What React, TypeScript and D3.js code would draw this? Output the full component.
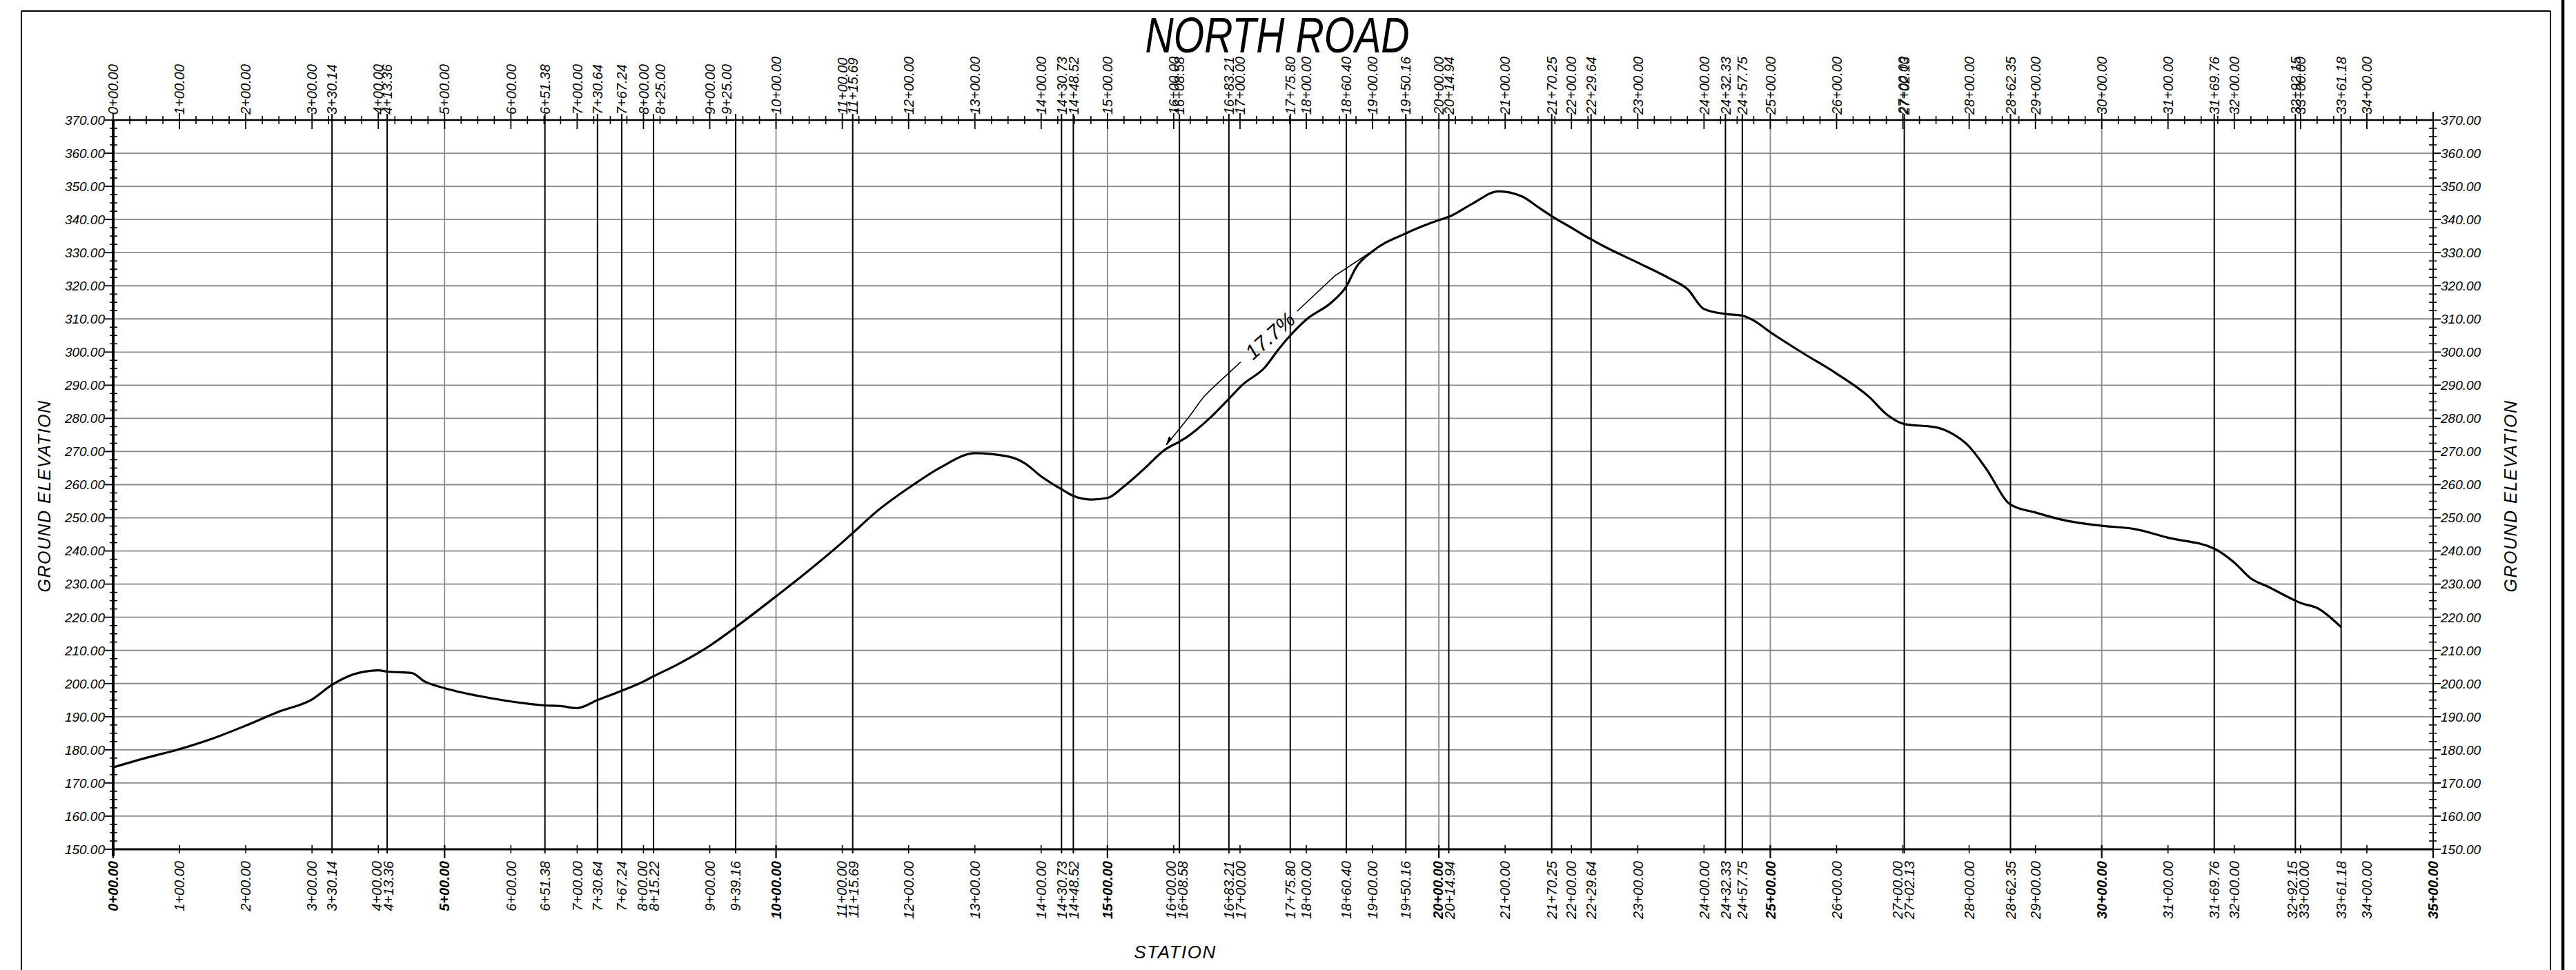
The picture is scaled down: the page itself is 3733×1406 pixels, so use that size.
import React from 'react';
import * as d3 from 'd3';

// ground profile, station in feet / elevation in feet
const profileStations = [
  0, 50, 100, 150, 200, 250, 300, 330.14, 360, 400, 413.36, 450, 470, 500, 550, 600,
  651.38, 675, 700, 730.64, 767.24, 800, 815.22, 850, 900, 939.16, 1000, 1050, 1100,
  1115.69, 1150, 1200, 1250, 1300, 1350, 1375, 1400, 1430.73, 1448.52, 1475, 1500,
  1525, 1555, 1587, 1608.58, 1620, 1654, 1683.21, 1703, 1738, 1758, 1775.8, 1800,
  1838, 1860.4, 1875, 1900, 1950.16, 2000, 2014.94, 2050, 2090, 2125, 2150, 2170.25,
  2200, 2229.64, 2250, 2300, 2350, 2375, 2400, 2432.33, 2457.75, 2475, 2500, 2550,
  2600, 2650, 2675, 2702.13, 2750, 2775, 2800, 2825, 2862.35, 2900, 2950, 3000, 3050,
  3100, 3169.76, 3200, 3225, 3250, 3292.15, 3300, 3325, 3361.18,
];
const profileElevations = [
  174.7, 177.6, 180.2, 183.4, 187.3, 191.5, 195.2, 199.6, 202.6, 204.0, 203.6, 203.2, 200.6, 198.6, 196.3, 194.6,
  193.4, 193.2, 192.6, 195.0, 197.8, 200.6, 202.2, 205.6, 211.4, 217.0, 226.3, 234.2, 242.6,
  245.4, 251.6, 259.0, 265.4, 269.5, 268.5, 266.5, 262.5, 258.6, 256.6, 255.5, 256.0,
  259.5, 264.7, 270.6, 273.0, 274.4, 280.0, 285.9, 290.0, 295.5, 300.8, 305.0, 309.8,
  315.0, 319.8, 325.5, 330.4, 335.8, 339.8, 340.8, 344.7, 348.5, 347.0, 343.7, 341.0,
  337.5, 334.0, 331.8, 327.0, 322.0, 319.0, 313.0, 311.5, 311.0, 309.5, 306.0, 299.6,
  293.5, 286.3, 281.3, 278.3, 277.3, 275.3, 271.5, 265.0, 254.0, 251.6, 249.0, 247.6, 246.6,
  244.0, 240.7, 236.5, 231.7, 229.3, 225.0, 224.3, 222.8, 217.0,
];

// station labels along the top edge
const topStations = [
  0, 100, 200, 300, 330.14, 400, 413.36, 500, 600, 651.38, 700, 730.64, 767.24, 800,
  825, 900, 925, 1000, 1100, 1115.69, 1200, 1300, 1400, 1430.73, 1448.52, 1500, 1600,
  1608.58, 1683.21, 1700, 1775.8, 1800, 1860.4, 1900, 1950.16, 2000, 2014.94, 2100,
  2170.25, 2200, 2229.64, 2300, 2400, 2432.33, 2457.75, 2500, 2600, 2700, 2702.13, 2800,
  2862.35, 2900, 3000, 3100, 3169.76, 3200, 3292.15, 3300, 3361.18, 3400,
];
// station labels along the bottom edge
const bottomStations = [
  0, 100, 200, 300, 330.14, 400, 413.36, 500, 600, 651.38, 700, 730.64, 767.24, 800,
  815.22, 900, 939.16, 1000, 1100, 1115.69, 1200, 1300, 1400, 1430.73, 1448.52, 1500,
  1600, 1608.58, 1683.21, 1700, 1775.8, 1800, 1860.4, 1900, 1950.16, 2000, 2014.94,
  2100, 2170.25, 2200, 2229.64, 2300, 2400, 2432.33, 2457.75, 2500, 2600, 2700, 2702.13,
  2800, 2862.35, 2900, 3000, 3100, 3169.76, 3200, 3292.15, 3300, 3361.18, 3400, 3500,
];
// break stations drawn as full-height black lines
const breakStations = [
  330.14, 413.36, 651.38, 730.64, 767.24, 815.22, 939.16, 1115.69, 1430.73, 1448.52,
  1608.58, 1683.21, 1775.8, 1860.4, 1950.16, 2014.94, 2170.25, 2229.64, 2432.33,
  2457.75, 2702.13, 2862.35, 3169.76, 3292.15, 3361.18,
];
const elevTicks = d3.range(150, 371, 10);

// 17.7% grade callout
const gradeLabel = '17.7%';
const gradeArrowSta = [1701, 1661, 1644, 1627, 1599, 1589];
const gradeArrowElev = [297, 289.6, 286.5, 281.3, 274.5, 272];
const gradeLineSta = [1786, 1843, 1899];
const gradeLineElev = [312.3, 323, 330.4];
const gradeTextSta = 1745;
const gradeTextElev = 305;

const W = 3733;
const H = 1406;
const FONT = '"Liberation Sans", Arial, sans-serif';

const fmtStation = (s: number) => {
  const hund = Math.floor(s / 100 + 1e-9);
  const rest = s - hund * 100;
  return `${hund}+${rest.toFixed(2).padStart(5, '0')}`;
};

export default function App() {
  const x = d3.scaleLinear().domain([0, 3500]).range([164, 3526]);
  const y = d3.scaleLinear().domain([150, 370]).range([1231, 174]);
  const top = y(370), bot = y(150), left = x(0), right = x(3500);

  const line = d3.line<[number, number]>()
    .x(d => x(d[0])).y(d => y(d[1]))
    .curve(d3.curveMonotoneX);
  const profile = line(profileStations.map((s, i) => [s, profileElevations[i]]));

  const arrowPath = d3.line<[number, number]>()
    .x(d => x(d[0])).y(d => y(d[1]))
    .curve(d3.curveBasis)(gradeArrowSta.map((s, i) => [s, gradeArrowElev[i]]));
  const gradePath = d3.line<[number, number]>()
    .x(d => x(d[0])).y(d => y(d[1]))(gradeLineSta.map((s, i) => [s, gradeLineElev[i]]));
  const ang = Math.atan2(
    y(gradeLineElev[0]) - y(gradeArrowElev[0]),
    x(gradeLineSta[0]) - x(gradeArrowSta[0])
  ) * 180 / Math.PI;
  const tipX = x(gradeArrowSta[gradeArrowSta.length - 1]);
  const tipY = y(gradeArrowElev[gradeArrowElev.length - 1]);

  // bottom labels spread apart a little where they crowd
  const bPos = bottomStations.map(s => x(s));
  for (let it = 0; it < 20; it++) {
    for (let i = 1; i < bPos.length; i++) {
      const gap = bPos[i] - bPos[i - 1];
      if (gap < 17) {
        const push = (17 - gap) / 2;
        bPos[i] += push;
        bPos[i - 1] -= push;
      }
    }
  }

  const minorX = d3.range(0, 3501, 25).filter(s => s % 100 !== 0);
  const minorY = d3.range(150, 370.1, 2.5).filter(e => e % 10 !== 0);

  return (
    <svg width={W} height={H} style={{ position: 'absolute', left: 0, top: 0, background: '#fff' }}>
      {/* sheet frame */}
      <line x1={31} x2={3696} y1={16} y2={16} stroke="#000" strokeWidth={2} />
      <line x1={31} x2={31} y1={16} y2={H} stroke="#000" strokeWidth={2} />
      <line x1={3696} x2={3696} y1={16} y2={H} stroke="#000" strokeWidth={2} />
      <line x1={3714} x2={3714} y1={0} y2={H} stroke="#000" strokeWidth={4.5} />

      {/* grid */}
      {elevTicks.filter(e => e > 150 && e < 370).map(e => (
        <line key={'h' + e} x1={left} x2={right} y1={y(e)} y2={y(e)} stroke="#8a8a8a" strokeWidth={1.8} />
      ))}
      {d3.range(500, 3500, 500).map(s => (
        <line key={'g' + s} x1={x(s)} x2={x(s)} y1={top} y2={bot} stroke="#8a8a8a" strokeWidth={1.8} />
      ))}
      {breakStations.map(s => (
        <line key={'b' + s} x1={x(s)} x2={x(s)} y1={top - 9} y2={bot + 6} stroke="#000" strokeWidth={2} />
      ))}

      {/* top axis */}
      <line x1={left} x2={right} y1={top} y2={top} stroke="#000" strokeWidth={2.4} />
      {minorX.map(s => (
        <line key={'mt' + s} x1={x(s)} x2={x(s)} y1={top - 6} y2={top + 6} stroke="#000" strokeWidth={1.6} />
      ))}
      {d3.range(0, 3401, 100).map(s => (
        <line key={'Mt' + s} x1={x(s)} x2={x(s)} y1={top - 10} y2={top + 13} stroke="#000" strokeWidth={1.8} />
      ))}
      {topStations.map(s => (
        <text key={'tl' + s} transform={`translate(${x(s)},${top - 8}) rotate(-90)`} dy="0.36em"
          fontFamily={FONT} fontStyle="italic" fontSize={20} fill="#000">{fmtStation(s)}</text>
      ))}

      {/* bottom axis */}
      <line x1={left} x2={right} y1={bot} y2={bot} stroke="#000" strokeWidth={3} />
      {d3.range(0, 3501, 100).map(s => (
        <line key={'Mb' + s} x1={x(s)} x2={x(s)} y1={bot - 6} y2={bot + (s % 500 === 0 ? 13 : 6)}
          stroke="#000" strokeWidth={s % 500 === 0 ? 2.2 : 1.6} />
      ))}
      {bottomStations.map((s, i) => (
        <text key={'bl' + s} transform={`translate(${bPos[i]},${bot + 17}) rotate(-90)`} dy="0.36em"
          textAnchor="end" fontFamily={FONT} fontStyle="italic"
          fontWeight={s % 500 === 0 ? 'bold' : 'normal'} fontSize={20} fill="#000">{fmtStation(s)}</text>
      ))}

      {/* left elevation axis */}
      <line x1={left} x2={left} y1={top} y2={bot + 10} stroke="#000" strokeWidth={4} />
      {minorY.map(e => (
        <line key={'ml' + e} x1={left - 5} x2={left + 6} y1={y(e)} y2={y(e)} stroke="#000" strokeWidth={1.6} />
      ))}
      {elevTicks.map(e => (
        <g key={'yl' + e}>
          <line x1={left - 12} x2={left} y1={y(e)} y2={y(e)} stroke="#000" strokeWidth={1.8} />
          <text x={left - 12} y={y(e)} dy="0.36em" textAnchor="end" fontFamily={FONT}
            fontStyle="italic" fontSize={19} fill="#000">{e.toFixed(2)}</text>
        </g>
      ))}

      {/* right elevation axis */}
      <line x1={right} x2={right} y1={top - 12} y2={bot + 10} stroke="#000" strokeWidth={2} />
      {minorY.map(e => (
        <line key={'mr' + e} x1={right - 6} x2={right + 5} y1={y(e)} y2={y(e)} stroke="#000" strokeWidth={1.6} />
      ))}
      {elevTicks.map(e => (
        <g key={'yr' + e}>
          <line x1={right} x2={right + 11} y1={y(e)} y2={y(e)} stroke="#000" strokeWidth={1.8} />
          <text x={right + 11} y={y(e)} dy="0.36em" fontFamily={FONT}
            fontStyle="italic" fontSize={19} fill="#000">{e.toFixed(2)}</text>
        </g>
      ))}

      {/* ground profile */}
      <path d={profile || ''} fill="none" stroke="#000" strokeWidth={3.2} strokeLinejoin="round" />

      {/* grade callout */}
      <path d={arrowPath || ''} fill="none" stroke="#000" strokeWidth={1.6} />
      <path d={gradePath || ''} fill="none" stroke="#000" strokeWidth={1.6} />
      <path d={`M${tipX},${tipY} l4,-12 l3,4 z`} fill="#000" stroke="#000" strokeWidth={1} />
      <text transform={`translate(${x(gradeTextSta)},${y(gradeTextElev)}) rotate(${ang})`}
        textAnchor="middle" dy="0.36em" fontFamily={FONT} fontStyle="italic" fontSize={30}
        fill="#000">{gradeLabel}</text>

      {/* titles */}
      <text x={1851} y={76} textAnchor="middle" fontFamily={FONT}
        fontStyle="italic" fontSize={72} textLength={383}
        lengthAdjust="spacingAndGlyphs" fill="#000">NORTH  ROAD</text>
      <text x={1703} y={1389} textAnchor="middle" fontFamily={FONT} fontStyle="italic"
        fontSize={26} letterSpacing={1.5} fill="#000">STATION</text>
      <text transform="translate(73,719) rotate(-90)" textAnchor="middle" fontFamily={FONT}
        fontStyle="italic" fontSize={25} letterSpacing={1.5} fill="#000">GROUND ELEVATION</text>
      <text transform="translate(3647,719) rotate(-90)" textAnchor="middle" fontFamily={FONT}
        fontStyle="italic" fontSize={25} letterSpacing={1.5} fill="#000">GROUND ELEVATION</text>
    </svg>
  );
}
